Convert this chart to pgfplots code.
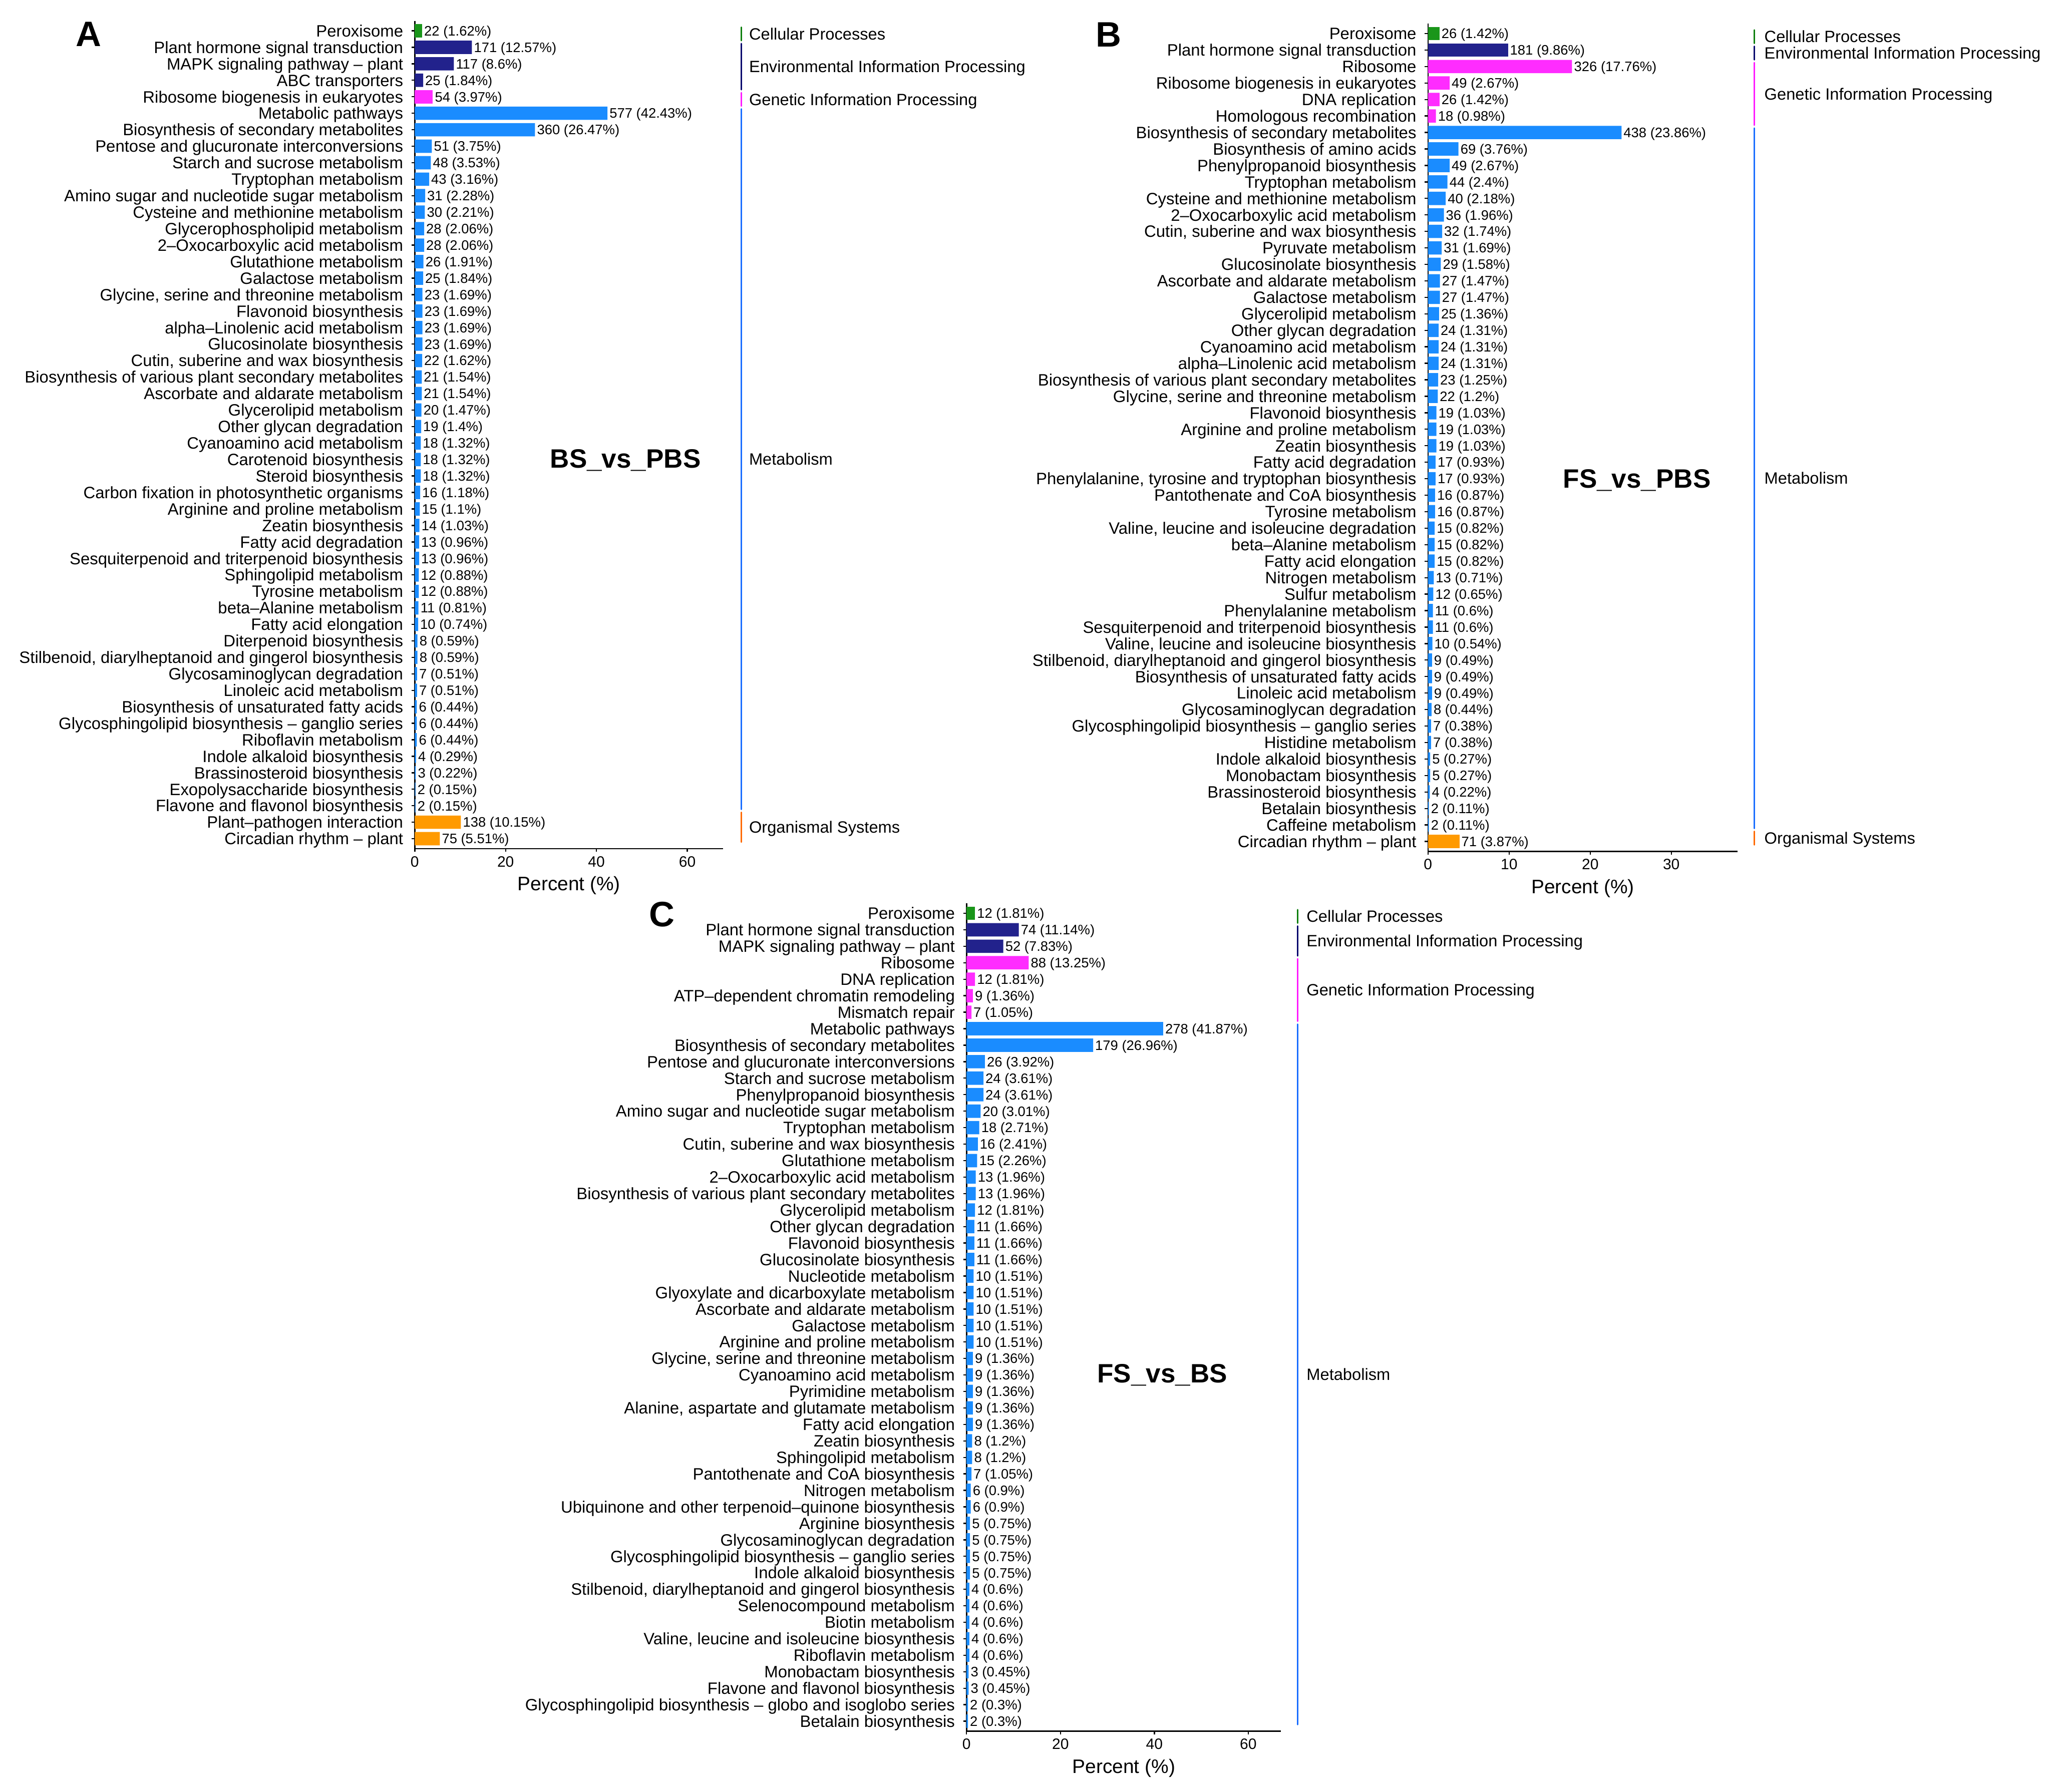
\documentclass[border=0pt]{standalone}
\usepackage{pgfplots}
\pgfplotsset{compat=1.18}
\usepackage{pgfplotstable}
\usepackage{fontspec}
\setmainfont{Liberation Sans}
\definecolor{cgreen}{HTML}{1A961A}
\definecolor{cnavy}{HTML}{22228C}
\definecolor{cmag}{HTML}{FF2CFF}
\definecolor{cblue}{HTML}{1A8CFF}
\definecolor{corange}{HTML}{FF9A00}
\definecolor{bgreen}{HTML}{0F7F0F}
\definecolor{bnavy}{HTML}{0A0A6E}
\definecolor{bmag}{HTML}{FF1AFF}
\definecolor{bblue}{HTML}{1A6EFF}
\definecolor{borange}{HTML}{FF6A00}

\pgfplotstableread{
idx pct n
0 1.62 22
1 12.57 171
2 8.6 117
3 1.84 25
4 3.97 54
5 42.43 577
6 26.47 360
7 3.75 51
8 3.53 48
9 3.16 43
10 2.28 31
11 2.21 30
12 2.06 28
13 2.06 28
14 1.91 26
15 1.84 25
16 1.69 23
17 1.69 23
18 1.69 23
19 1.69 23
20 1.62 22
21 1.54 21
22 1.54 21
23 1.47 20
24 1.4 19
25 1.32 18
26 1.32 18
27 1.32 18
28 1.18 16
29 1.1 15
30 1.03 14
31 0.96 13
32 0.96 13
33 0.88 12
34 0.88 12
35 0.81 11
36 0.74 10
37 0.59 8
38 0.59 8
39 0.51 7
40 0.51 7
41 0.44 6
42 0.44 6
43 0.44 6
44 0.29 4
45 0.22 3
46 0.15 2
47 0.15 2
48 10.15 138
49 5.51 75
}\tableA

\pgfplotstableread{
idx pct n
0 1.42 26
1 9.86 181
2 17.76 326
3 2.67 49
4 1.42 26
5 0.98 18
6 23.86 438
7 3.76 69
8 2.67 49
9 2.4 44
10 2.18 40
11 1.96 36
12 1.74 32
13 1.69 31
14 1.58 29
15 1.47 27
16 1.47 27
17 1.36 25
18 1.31 24
19 1.31 24
20 1.31 24
21 1.25 23
22 1.2 22
23 1.03 19
24 1.03 19
25 1.03 19
26 0.93 17
27 0.93 17
28 0.87 16
29 0.87 16
30 0.82 15
31 0.82 15
32 0.82 15
33 0.71 13
34 0.65 12
35 0.6 11
36 0.6 11
37 0.54 10
38 0.49 9
39 0.49 9
40 0.49 9
41 0.44 8
42 0.38 7
43 0.38 7
44 0.27 5
45 0.27 5
46 0.22 4
47 0.11 2
48 0.11 2
49 3.87 71
}\tableB

\pgfplotstableread{
idx pct n
0 1.81 12
1 11.14 74
2 7.83 52
3 13.25 88
4 1.81 12
5 1.36 9
6 1.05 7
7 41.87 278
8 26.96 179
9 3.92 26
10 3.61 24
11 3.61 24
12 3.01 20
13 2.71 18
14 2.41 16
15 2.26 15
16 1.96 13
17 1.96 13
18 1.81 12
19 1.66 11
20 1.66 11
21 1.66 11
22 1.51 10
23 1.51 10
24 1.51 10
25 1.51 10
26 1.51 10
27 1.36 9
28 1.36 9
29 1.36 9
30 1.36 9
31 1.36 9
32 1.2 8
33 1.2 8
34 1.05 7
35 0.9 6
36 0.9 6
37 0.75 5
38 0.75 5
39 0.75 5
40 0.75 5
41 0.6 4
42 0.6 4
43 0.6 4
44 0.6 4
45 0.6 4
46 0.45 3
47 0.45 3
48 0.3 2
49 0.3 2
}\tableC

\pgfplotsset{
  keggaxis/.style={
    scale only axis, height=316.4pt,
    xbar, bar width=5.1pt, bar shift=0pt,
    xmin=0, ymin=-0.6, ymax=49.6, y dir=reverse,
    enlargelimits=false, clip=false,
    axis x line*=bottom, axis y line*=left,
    axis line style={line width=0.5pt, black},
    tick align=outside, major tick length=1.25pt,
    tick style={black, line width=0.45pt},
    ytick={0,...,49},
    yticklabel style={font=\fontsize{6.3}{7}\selectfont, inner sep=0pt, text height=4.51pt, text depth=0pt, xshift=-3pt},
    xticklabel style={font=\fontsize{5.75}{6.5}\selectfont, inner sep=0pt, yshift=-1.5pt},
    /pgf/number format/assume math mode=true,
    xlabel={Percent (\%)},
    xlabel style={font=\fontsize{7.45}{8.5}\selectfont, at={(axis description cs:0.5,0)}, anchor=center, yshift=-14.1pt},
  },
  bb/.style={fill=#1, draw=none, bar shift=0pt,
    point meta=x,
    visualization depends on={\thisrow{n}\as\ncount},
    nodes near coords={\pgfmathprintnumber[fixed,precision=0]{\ncount}\ (\pgfmathprintnumber{\pgfplotspointmeta}\%)},
    every node near coord/.append style={font=\fontsize{5.25}{6}\selectfont, inner sep=0.6pt, text height=3.76pt, text depth=0pt, black},
  },
}

\newcommand{\grp}[6]{%
  \draw[line width=0.6pt, line cap=round, #1] (axis cs:#5,{0.19+0.992*(#2-0.41)}) -- (axis cs:#5,{0.19+0.992*(#3+0.41)});
  \node[anchor=west, inner sep=0pt, font=\fontsize{6.25}{7}\selectfont, text height=4.475pt, text depth=0pt] at (axis cs:#6,{0.19+0.992*(#2+#3)/2}) {#4};%
}

\begin{document}
\begin{tikzpicture}
\path[use as bounding box] (0,0) rectangle (784pt,685pt);

% Panel letters
\node[font=\bfseries\fontsize{13.5}{16}\selectfont, inner sep=0pt, text height=9.67pt, text depth=0pt] at (33.85pt,672.05pt) {A};
\node[font=\bfseries\fontsize{13.5}{16}\selectfont, inner sep=0pt, text height=9.67pt, text depth=0pt] at (423.75pt,672pt) {B};
\node[font=\bfseries\fontsize{13.5}{16}\selectfont, inner sep=0pt, text height=9.67pt, text depth=0pt] at (253pt,335.65pt) {C};

% ---------------- Panel A ----------------
\begin{axis}[keggaxis, at={(158.55pt,360.6pt)}, anchor=south west,
  width=117.85pt, xmax=67.888, xtick={0,20,40,60},
  yticklabels={Peroxisome, Plant hormone signal transduction, MAPK signaling pathway – plant, ABC transporters, Ribosome biogenesis in eukaryotes, Metabolic pathways, Biosynthesis of secondary metabolites, Pentose and glucuronate interconversions, Starch and sucrose metabolism, Tryptophan metabolism, Amino sugar and nucleotide sugar metabolism, Cysteine and methionine metabolism, Glycerophospholipid metabolism, 2–Oxocarboxylic acid metabolism, Glutathione metabolism, Galactose metabolism, {Glycine, serine and threonine metabolism}, Flavonoid biosynthesis, alpha–Linolenic acid metabolism, Glucosinolate biosynthesis, {Cutin, suberine and wax biosynthesis}, Biosynthesis of various plant secondary metabolites, Ascorbate and aldarate metabolism, Glycerolipid metabolism, Other glycan degradation, Cyanoamino acid metabolism, Carotenoid biosynthesis, Steroid biosynthesis, Carbon fixation in photosynthetic organisms, Arginine and proline metabolism, Zeatin biosynthesis, Fatty acid degradation, Sesquiterpenoid and triterpenoid biosynthesis, Sphingolipid metabolism, Tyrosine metabolism, beta–Alanine metabolism, Fatty acid elongation, Diterpenoid biosynthesis, {Stilbenoid, diarylheptanoid and gingerol biosynthesis}, Glycosaminoglycan degradation, Linoleic acid metabolism, Biosynthesis of unsaturated fatty acids, Glycosphingolipid biosynthesis – ganglio series, Riboflavin metabolism, Indole alkaloid biosynthesis, Brassinosteroid biosynthesis, Exopolysaccharide biosynthesis, Flavone and flavonol biosynthesis, Plant–pathogen interaction, Circadian rhythm – plant},
]
\addplot[bb=cgreen, restrict y to domain=-0.5:0.5] table[x=pct,y=idx] {\tableA};
\addplot[bb=cnavy, restrict y to domain=0.5:3.5] table[x=pct,y=idx] {\tableA};
\addplot[bb=cmag, restrict y to domain=3.5:4.5] table[x=pct,y=idx] {\tableA};
\addplot[bb=cblue, restrict y to domain=4.5:47.5] table[x=pct,y=idx] {\tableA};
\addplot[bb=corange, restrict y to domain=47.5:49.5] table[x=pct,y=idx] {\tableA};
\grp{bgreen}{0}{0}{Cellular Processes}{71.95}{73.5}
\grp{bnavy}{1}{3}{Environmental Information Processing}{71.95}{73.5}
\grp{bmag}{4}{4}{Genetic Information Processing}{71.95}{73.5}
\grp{bblue}{5}{47}{Metabolism}{71.95}{73.5}
\grp{borange}{48}{49}{Organismal Systems}{71.95}{73.5}
\node[font=\bfseries\fontsize{10.15}{12}\selectfont, inner sep=0pt, text height=7.27pt, text depth=0pt] at (axis cs:46.4,25.92) {BS\_vs\_PBS};
\end{axis}

% ---------------- Panel B ----------------
\begin{axis}[keggaxis, at={(545.85pt,359.55pt)}, anchor=south west,
  width=118.35pt, xmax=38.176, xtick={0,10,20,30},
  yticklabels={Peroxisome, Plant hormone signal transduction, Ribosome, Ribosome biogenesis in eukaryotes, DNA replication, Homologous recombination, Biosynthesis of secondary metabolites, Biosynthesis of amino acids, Phenylpropanoid biosynthesis, Tryptophan metabolism, Cysteine and methionine metabolism, 2–Oxocarboxylic acid metabolism, {Cutin, suberine and wax biosynthesis}, Pyruvate metabolism, Glucosinolate biosynthesis, Ascorbate and aldarate metabolism, Galactose metabolism, Glycerolipid metabolism, Other glycan degradation, Cyanoamino acid metabolism, alpha–Linolenic acid metabolism, Biosynthesis of various plant secondary metabolites, {Glycine, serine and threonine metabolism}, Flavonoid biosynthesis, Arginine and proline metabolism, Zeatin biosynthesis, Fatty acid degradation, {Phenylalanine, tyrosine and tryptophan biosynthesis}, Pantothenate and CoA biosynthesis, Tyrosine metabolism, {Valine, leucine and isoleucine degradation}, beta–Alanine metabolism, Fatty acid elongation, Nitrogen metabolism, Sulfur metabolism, Phenylalanine metabolism, Sesquiterpenoid and triterpenoid biosynthesis, {Valine, leucine and isoleucine biosynthesis}, {Stilbenoid, diarylheptanoid and gingerol biosynthesis}, Biosynthesis of unsaturated fatty acids, Linoleic acid metabolism, Glycosaminoglycan degradation, Glycosphingolipid biosynthesis – ganglio series, Histidine metabolism, Indole alkaloid biosynthesis, Monobactam biosynthesis, Brassinosteroid biosynthesis, Betalain biosynthesis, Caffeine metabolism, Circadian rhythm – plant},
]
\addplot[bb=cgreen, restrict y to domain=-0.5:0.5] table[x=pct,y=idx] {\tableB};
\addplot[bb=cnavy, restrict y to domain=0.5:1.5] table[x=pct,y=idx] {\tableB};
\addplot[bb=cmag, restrict y to domain=1.5:5.5] table[x=pct,y=idx] {\tableB};
\addplot[bb=cblue, restrict y to domain=5.5:48.5] table[x=pct,y=idx] {\tableB};
\addplot[bb=corange, restrict y to domain=48.5:49.5] table[x=pct,y=idx] {\tableB};
\grp{bgreen}{0}{0}{Cellular Processes}{40.21}{41.42}
\grp{bnavy}{1}{1}{Environmental Information Processing}{40.21}{41.42}
\grp{bmag}{2}{5}{Genetic Information Processing}{40.21}{41.42}
\grp{bblue}{6}{48}{Metabolism}{40.21}{41.42}
\grp{borange}{49}{49}{Organismal Systems}{40.21}{41.42}
\node[font=\bfseries\fontsize{10.15}{12}\selectfont, inner sep=0pt, text height=7.27pt, text depth=0pt] at (axis cs:25.76,26.98) {FS\_vs\_PBS};
\end{axis}

% ---------------- Panel C ----------------
\begin{axis}[keggaxis, at={(369.45pt,23.25pt)}, anchor=south west,
  width=120.25pt, xmax=66.992, xtick={0,20,40,60},
  yticklabels={Peroxisome, Plant hormone signal transduction, MAPK signaling pathway – plant, Ribosome, DNA replication, ATP–dependent chromatin remodeling, Mismatch repair, Metabolic pathways, Biosynthesis of secondary metabolites, Pentose and glucuronate interconversions, Starch and sucrose metabolism, Phenylpropanoid biosynthesis, Amino sugar and nucleotide sugar metabolism, Tryptophan metabolism, {Cutin, suberine and wax biosynthesis}, Glutathione metabolism, 2–Oxocarboxylic acid metabolism, Biosynthesis of various plant secondary metabolites, Glycerolipid metabolism, Other glycan degradation, Flavonoid biosynthesis, Glucosinolate biosynthesis, Nucleotide metabolism, Glyoxylate and dicarboxylate metabolism, Ascorbate and aldarate metabolism, Galactose metabolism, Arginine and proline metabolism, {Glycine, serine and threonine metabolism}, Cyanoamino acid metabolism, Pyrimidine metabolism, {Alanine, aspartate and glutamate metabolism}, Fatty acid elongation, Zeatin biosynthesis, Sphingolipid metabolism, Pantothenate and CoA biosynthesis, Nitrogen metabolism, Ubiquinone and other terpenoid–quinone biosynthesis, Arginine biosynthesis, Glycosaminoglycan degradation, Glycosphingolipid biosynthesis – ganglio series, Indole alkaloid biosynthesis, {Stilbenoid, diarylheptanoid and gingerol biosynthesis}, Selenocompound metabolism, Biotin metabolism, {Valine, leucine and isoleucine biosynthesis}, Riboflavin metabolism, Monobactam biosynthesis, Flavone and flavonol biosynthesis, Glycosphingolipid biosynthesis – globo and isoglobo series, Betalain biosynthesis},
]
\addplot[bb=cgreen, restrict y to domain=-0.5:0.5] table[x=pct,y=idx] {\tableC};
\addplot[bb=cnavy, restrict y to domain=0.5:2.5] table[x=pct,y=idx] {\tableC};
\addplot[bb=cmag, restrict y to domain=2.5:6.5] table[x=pct,y=idx] {\tableC};
\addplot[bb=cblue, restrict y to domain=6.5:49.5] table[x=pct,y=idx] {\tableC};
\grp{bgreen}{0}{0}{Cellular Processes}{70.47}{72.31}
\grp{bnavy}{1}{2}{Environmental Information Processing}{70.47}{72.31}
\grp{bmag}{3}{6}{Genetic Information Processing}{70.47}{72.31}
\grp{bblue}{7}{49}{Metabolism}{70.47}{72.31}
\node[font=\bfseries\fontsize{10.15}{12}\selectfont, inner sep=0pt, text height=7.27pt, text depth=0pt] at (axis cs:41.7,27.88) {FS\_vs\_BS};
\end{axis}
\end{tikzpicture}
\end{document}
